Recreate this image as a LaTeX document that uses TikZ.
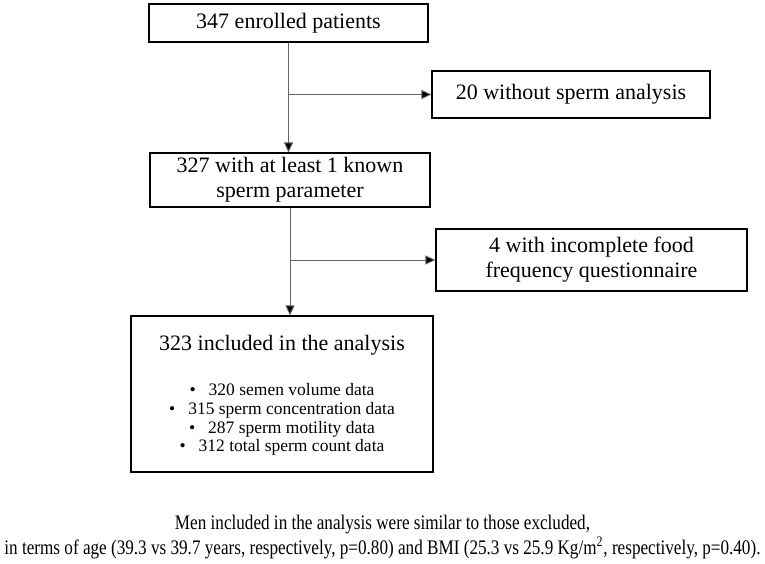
\documentclass[tikz,border=0pt]{standalone}
\usepackage{fontspec}
\setmainfont{Liberation Serif}
\usetikzlibrary{arrows.meta}
\begin{document}
\begin{tikzpicture}[x=1pt,y=1pt,
  box/.style={draw=black,line width=1.1pt,inner sep=0pt,align=center,font=\fontsize{22}{25}\selectfont},
  conn/.style={draw=black!60,line width=0.9pt},
  arr/.style={conn,-{Triangle[length=10pt,width=9pt,fill=black]}}]
\useasboundingbox (0,0) rectangle (765,-564);
\node[box,minimum width=279pt,minimum height=38pt] (b1) at (288.5,-23) {347 enrolled patients};
\node[box,minimum width=278pt,minimum height=47pt] (b2) at (571,-94.5) {20 without sperm analysis};
\node[box,minimum width=280pt,minimum height=54pt] (b3) at (290,-180) {327 with at least 1 known\\sperm parameter};
\node[box,minimum width=311pt,minimum height=62pt] (b4) at (591.5,-260) {4 with incomplete food\\frequency questionnaire};
\node[box,minimum width=302pt,minimum height=156pt] (b5) at (282,-394) {};
\node[font=\fontsize{22}{25}\selectfont] (t5) at (282,-345) {323 included in the analysis};
\node[font=\fontsize{17.5}{18.7}\selectfont,align=center,anchor=north] (l5) at (282,-380)
  {\textbullet\hspace{13pt}320 semen volume data\\
   \textbullet\hspace{13pt}315 sperm concentration data\\
   \textbullet\hspace{13pt}287 sperm motility data\\
   \textbullet\hspace{13pt}312 total sperm count data};
\coordinate (j1) at (b1.south |- b2.west);
\coordinate (j2) at (b3.south |- b4.west);
\draw[arr] (b1.south) -- (b1.south |- b3.north);
\draw[arr] (j1) -- (b2.west);
\draw[arr] (b3.south) -- (b3.south |- b5.north);
\draw[arr] (j2) -- (b4.west);
\node (note) at (382.5,-537) {\resizebox{756pt}{30pt}{\begin{tabular}{@{}c@{}}Men included in the analysis were similar to those excluded,\\
in terms of age (39.3 vs 39.7 years, respectively, p=0.80) and BMI (25.3 vs 25.9 Kg/m\textsuperscript{2}, respectively, p=0.40).\end{tabular}}};
\end{tikzpicture}
\end{document}
